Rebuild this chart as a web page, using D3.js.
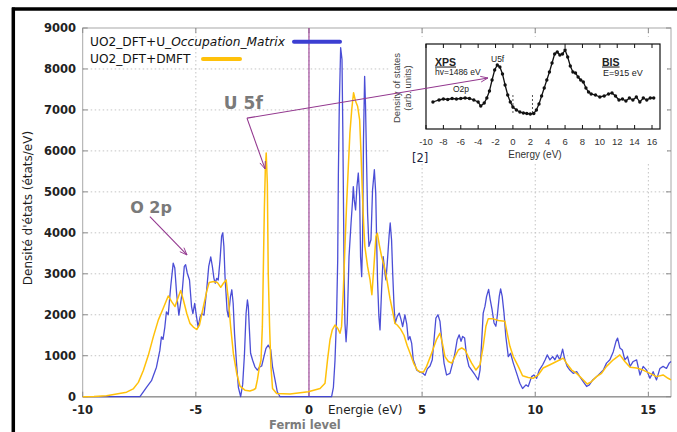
<!DOCTYPE html>
<html>
<head>
<meta charset="utf-8">
<script src="https://cdn.jsdelivr.net/npm/d3@7"></script>
<style>
  body { margin: 0; background: #fff; }
  svg { display: block; }
</style>
</head>
<body>
<svg id="chart" width="677" height="432"></svg>
<script>
// ---- data -------------------------------------------------------------
const energyTicks = [-10, -5, 0, 5, 10, 15];
const dosTicks = [0, 1000, 2000, 3000, 4000, 5000, 6000, 7000, 8000, 9000];

// DFT+U (occupation matrix) density of states
const dftuEnergy = [-10, -7.47, -7.18, -6.96, -6.74, -6.59, -6.52, -6.45, -6.37, -6.30, -6.22, -6.11, -6.00, -5.93, -5.85, -5.75,
  -5.61, -5.51, -5.45, -5.38, -5.28, -5.19, -5.13, -5.05, -4.99, -4.90, -4.81, -4.74, -4.64, -4.52, -4.43, -4.34,
  -4.27, -4.20, -4.14, -4.08, -4.01, -3.93, -3.86, -3.81, -3.76, -3.71, -3.62, -3.56, -3.47, -3.41, -3.35, -3.29,
  -3.20, -3.12, -3.02, -2.93, -2.85, -2.78, -2.72, -2.68, -2.64, -2.58, -2.49, -2.39, -2.28, -2.19, -2.09, -1.99,
  -1.90, -1.80, -1.69, -1.61, -1.50, -1.40, -1.28, 1.00, 1.08, 1.15, 1.22, 1.27, 1.30, 1.34, 1.40, 1.46, 1.50,
  1.55, 1.59, 1.64, 1.69, 1.77, 1.86, 1.92, 1.96, 2.00, 2.06, 2.12, 2.18, 2.24, 2.28, 2.33, 2.37, 2.41, 2.46,
  2.50, 2.55, 2.59, 2.65, 2.74, 2.81, 2.89, 2.95, 2.99, 3.03, 3.09, 3.14, 3.21, 3.28, 3.36, 3.40, 3.46, 3.54,
  3.59, 3.65, 3.70, 3.76, 3.81, 3.90, 3.99, 4.07, 4.14, 4.24, 4.32, 4.39, 4.46, 4.54, 4.61, 4.68, 4.76, 4.90,
  5.02, 5.13, 5.23, 5.35, 5.45, 5.54, 5.61, 5.70, 5.79, 5.88, 5.97, 6.08, 6.23, 6.35, 6.45, 6.55, 6.64, 6.72,
  6.79, 6.88, 6.97, 7.07, 7.19, 7.34, 7.48, 7.56, 7.63, 7.70, 7.78, 7.85, 7.94, 8.01, 8.09, 8.18, 8.26, 8.32,
  8.41, 8.47, 8.54, 8.62, 8.70, 8.81, 8.91, 9.03, 9.18, 9.32, 9.44, 9.59, 9.69, 9.84, 9.94, 10.06, 10.18, 10.33,
  10.44, 10.53, 10.65, 10.77, 10.87, 10.97, 11.09, 11.21, 11.31, 11.41, 11.53, 11.68, 11.83, 11.97, 12.12, 12.27,
  12.39, 12.54, 12.71, 12.86, 13.01, 13.15, 13.30, 13.45, 13.57, 13.64, 13.74, 13.85, 13.96, 14.08, 14.19, 14.33,
  14.48, 14.63, 14.77, 14.92, 15.07, 15.21, 15.36, 15.51, 15.65, 15.80, 15.92, 16.0];
const dftuDos = [0, 0, 230, 390, 720, 1130, 1460, 1400, 1700, 2070, 2000, 2690, 3260, 3140, 2520, 1990,
  2520, 3180, 3220, 3020, 2850, 2200, 2030, 2280, 2030, 1700, 1950, 2030, 1990, 2610, 3180, 3410,
  3180, 2890, 2770, 2890, 2850, 3340, 3920, 4000, 3670, 2930, 2110, 1950, 2440, 2610, 2280, 1540,
  800, 230, 0, 300, 1050, 2030, 2360, 2200, 1710, 1060, 890, 730, 650, 720, 750, 980,
  1180, 1260, 1150, 730, 410, 120, 0, 0, 230, 880, 1960, 3340, 5460, 7090, 8520, 8230, 6280,
  3180, 1790, 1340, 1790, 3420, 4240, 4730, 5130, 4810, 4560, 5130, 5460, 4890, 3420, 2930, 3830, 6280, 7820,
  7090, 5620, 4480, 3670, 3830, 5050, 5540, 4970, 3830, 2850, 1960, 1630, 2610, 3420, 3000, 2850, 3260, 3920,
  4240, 3830, 3020, 2200, 1790, 1960, 2040, 1880, 1710, 2000, 1780, 1390, 1470, 1300, 900, 800, 650, 600,
  580, 520, 680, 750, 900, 1470, 1920, 2000, 1840, 1310, 820, 530, 570, 820, 1060, 1390, 1510, 1350,
  1470, 1430, 980, 740, 650, 530, 410, 650, 1310, 2040, 2210, 2450, 2620, 2370, 2130, 1800, 1720, 1960,
  2450, 2630, 2450, 2040, 1470, 980, 1060, 820, 570, 330, 200, 290, 250, 490, 530, 450, 650, 780,
  900, 1020, 900, 980, 900, 1020, 900, 1160, 900, 740, 650, 570, 610, 490, 370, 250,
  290, 410, 490, 570, 650, 820, 900, 1100, 1350, 1430, 1190, 1140, 900, 980, 740, 860,
  900, 530, 740, 650, 450, 610, 410, 690, 740, 690, 820, 860];

// DFT+DMFT density of states
const dmftEnergy = [-10, -9.5, -8.95, -8.06, -7.77, -7.54, -7.32, -7.10, -6.88, -6.66, -6.44, -6.22, -6.07, -5.92,
  -5.77, -5.67, -5.55, -5.40, -5.26, -5.11, -4.96, -4.84, -4.70, -4.52, -4.41, -4.22, -4.05, -3.90, -3.78, -3.66,
  -3.56, -3.46, -3.34, -3.19, -3.05, -2.83, -2.61, -2.45, -2.36, -2.28, -2.19, -2.12, -2.06, -2.02, -1.97, -1.93,
  -1.89, -1.84, -1.80, -1.74, -1.68, -1.61, -1.43, -0.84, -0.03, 0.49, 0.71, 0.82, 0.93, 1.03, 1.15, 1.27, 1.37,
  1.44, 1.52, 1.59, 1.66, 1.74, 1.81, 1.89, 1.97, 2.06, 2.15, 2.24, 2.30, 2.36, 2.42, 2.47, 2.59, 2.70, 2.78,
  2.87, 2.96, 3.02, 3.11, 3.21, 3.33, 3.43, 3.58, 3.70, 3.80, 3.90, 4.05, 4.20, 4.34, 4.49, 4.64, 4.79, 4.93,
  5.06, 5.20, 5.42, 5.64, 5.79, 5.91, 6.01, 6.16, 6.31, 6.45, 6.60, 6.75, 6.90, 7.04, 7.19, 7.38, 7.56, 7.70,
  7.82, 7.92, 8.15, 8.37, 8.66, 8.76, 8.88, 9.03, 9.25, 9.44, 9.69, 9.91, 10.13, 10.35, 10.65, 10.94, 11.24,
  11.38, 11.61, 11.83, 12.05, 12.30, 12.49, 12.71, 12.93, 13.15, 13.45, 13.74, 13.96, 14.19, 14.48, 14.77,
  15.07, 15.36, 15.65, 15.87, 16.0];
const dmftDos = [0, 5, 25, 110, 190, 350, 640, 1010, 1460, 1870, 2160, 2460, 2320, 2200,
  2440, 2590, 2360, 2030, 1790, 1700, 1640, 1750, 2110, 2570, 2790, 2810, 2790, 2670, 2770, 2850,
  2360, 1700, 1050, 560, 260, 160, 140, 170, 200, 410, 730, 890, 1710, 3010, 4630, 5530,
  5950, 5200, 3010, 1710, 730, 200, 80, 65, 120, 200, 330, 900, 1390, 1630, 1750, 1670, 1550,
  1710, 2610, 3670, 4650, 5620, 6440, 7010, 7420, 7210, 7090, 6760, 5950, 4970, 4160, 3670, 3180, 2850, 2490,
  3180, 3910, 3990, 3700, 3420, 3180, 2900, 2400, 2080, 1790, 1750, 1650, 1500, 1250, 1030, 800, 650, 600,
  600, 740, 1060, 1400, 1550, 1270, 980, 860, 820, 980, 1140, 1190, 1140, 980, 820, 650, 780, 1230,
  1720, 1900, 1900, 1860, 1840, 1550, 1230, 980, 740, 510, 470, 450, 530, 700, 780, 860, 940,
  820, 650, 570, 450, 310, 370, 490, 570, 740, 900, 1020, 860, 720, 700, 650,
  570, 490, 530, 450, 410];

// XPS / BIS spectrum (arbitrary units)
const xpsEnergy = [-9.2, -8.5, -8.0, -7.5, -7.0, -6.5, -6.0, -5.5, -5.0, -4.5, -4.0, -3.7, -3.3, -3.0, -2.7, -2.4,
  -2.1, -1.8, -1.5, -1.2, -0.9, -0.6, -0.3, 0.0, 0.4, 0.8, 1.2, 1.6, 2.0, 2.4, 2.7, 3.0, 3.3, 3.6, 3.9, 4.2,
  4.5, 4.8, 5.1, 5.4, 5.7, 6.0, 6.3, 6.6, 6.9, 7.2, 7.5, 7.8, 8.1, 8.4, 8.7, 9.0, 9.5, 10.0, 10.5, 11.0, 11.4,
  11.8, 12.2, 12.6, 13.0, 13.4, 13.8, 14.2, 14.6, 15.0, 15.4, 15.8, 16.2];
const xpsIntensity = [27, 29, 30, 29.5, 30.5, 30, 30.5, 31, 30.5, 29, 27, 23, 26, 31, 38, 49,
  59, 64, 62, 55, 44, 34, 27, 22, 19, 17, 16, 15.5, 15, 15.5, 19, 25, 33, 41, 49, 57,
  66, 75, 77, 74, 75, 79, 72, 63, 57, 56, 52, 49, 47, 41, 37, 35, 34, 32, 33, 35, 36,
  33, 29, 30, 28, 31, 29, 32, 27, 31, 29, 31, 31];
const insetTicks = [-10, -8, -6, -4, -2, 0, 2, 4, 6, 8, 10, 12, 14, 16];
const bandEdges = [0, 2.25];

const legendLabels = [["UO2_DFT+U_", "Occupation_Matrix"], ["UO2_DFT+DMFT", ""]];
const seriesColors = ["#3c3fd2", "#ffc10a"];

// ---- layout -------------------------------------------------------------
const svg = d3.select("#chart");
const x = d3.scaleLinear().domain([-10, 16]).range([82.7, 671]);
const y = d3.scaleLinear().domain([0, 9000]).range([396.7, 28]);
const purple = "#93388f";

svg.append("rect").attr("width", 677).attr("height", 432).attr("fill", "#fff");

// outer black frame (top and left edges)
svg.append("line").attr("x1", 12).attr("x2", 677).attr("y1", 9).attr("y2", 9)
  .attr("stroke", "#000").attr("stroke-width", 3.5);
svg.append("line").attr("x1", 13.3).attr("x2", 13.3).attr("y1", 7.5).attr("y2", 432)
  .attr("stroke", "#000").attr("stroke-width", 3.5);

// grid
const grid = svg.append("g").attr("stroke", "#c4c4c4").attr("stroke-dasharray", "1.5,2.5").attr("stroke-width", 1);
grid.selectAll(".gx").data(energyTicks.filter(d => d > -10)).join("line")
  .attr("x1", d => x(d)).attr("x2", d => x(d)).attr("y1", y(9000)).attr("y2", y(0));
grid.selectAll(".gy").data(dosTicks.filter(d => d > 0 && d < 9000)).join("line")
  .attr("x1", x(-10)).attr("x2", x(16)).attr("y1", d => y(d)).attr("y2", d => y(d));

// frame and inward ticks
svg.append("rect").attr("x", x(-10)).attr("y", y(9000)).attr("width", x(16) - x(-10)).attr("height", y(0) - y(9000))
  .attr("fill", "none").attr("stroke", "#a8a8a8").attr("stroke-width", 1);
svg.append("line").attr("x1", x(-10)).attr("x2", x(16)).attr("y1", y(0)).attr("y2", y(0))
  .attr("stroke", "#9a9a9a").attr("stroke-width", 1.6);
const tk = svg.append("g").attr("stroke", "#8a8a8a").attr("stroke-width", 1);
energyTicks.forEach(d => {
  tk.append("line").attr("x1", x(d)).attr("x2", x(d)).attr("y1", y(0)).attr("y2", y(0) - 5);
  tk.append("line").attr("x1", x(d)).attr("x2", x(d)).attr("y1", y(9000)).attr("y2", y(9000) + 5);
});
dosTicks.forEach(d => {
  tk.append("line").attr("x1", x(-10)).attr("x2", x(-10) + 5).attr("y1", y(d)).attr("y2", y(d));
  tk.append("line").attr("x1", x(16)).attr("x2", x(16) - 5).attr("y1", y(d)).attr("y2", y(d));
});

// axis labels
const tickFont = "'DejaVu Sans', Verdana, sans-serif";
svg.append("g").selectAll("text").data(dosTicks).join("text")
  .attr("x", 76).attr("y", d => y(d) + 4.2).attr("text-anchor", "end")
  .attr("font-family", tickFont).attr("font-size", 11.5).attr("font-weight", "bold").attr("fill", "#222")
  .text(d => d);
svg.append("g").selectAll("text").data(energyTicks).join("text")
  .attr("x", d => x(d)).attr("y", 414).attr("text-anchor", "middle")
  .attr("font-family", tickFont).attr("font-size", 11.5).attr("font-weight", "bold").attr("fill", "#222")
  .text(d => d);

svg.append("text").attr("transform", "translate(32,208) rotate(-90)").attr("text-anchor", "middle")
  .attr("font-family", tickFont).attr("font-size", 12).attr("fill", "#1e1e1e")
  .text("Densité d'états (états/eV)");
svg.append("text").attr("x", 328).attr("y", 414)
  .attr("font-family", tickFont).attr("font-size", 12).attr("fill", "#1e1e1e")
  .text("Energie (eV)");
svg.append("text").attr("x", 269).attr("y", 429)
  .attr("font-family", tickFont).attr("font-size", 11.5).attr("font-weight", "bold").attr("fill", "#7c7c7c")
  .text("Fermi level");

// Fermi level
svg.append("line").attr("x1", x(0)).attr("x2", x(0)).attr("y1", y(9000)).attr("y2", y(0))
  .attr("stroke", "#a04a9c").attr("stroke-width", 1.2);

// density-of-states curves
const line = d3.line().x(d => x(d[0])).y(d => y(d[1]));
svg.append("path").datum(d3.zip(dftuEnergy, dftuDos)).attr("d", line)
  .attr("fill", "none").attr("stroke", seriesColors[0]).attr("stroke-width", 1.3).attr("stroke-linejoin", "round")
  .attr("stroke-opacity", 0.92);
svg.append("path").datum(d3.zip(dmftEnergy, dmftDos)).attr("d", line)
  .attr("fill", "none").attr("stroke", seriesColors[1]).attr("stroke-width", 1.5).attr("stroke-linejoin", "round");

// legend
const legendFont = "'DejaVu Sans', sans-serif";
const lg = svg.append("g");
const l1 = lg.append("text").attr("x", 90).attr("y", 46).attr("font-family", legendFont).attr("font-size", 12.2).attr("fill", "#111");
l1.append("tspan").text(legendLabels[0][0]);
l1.append("tspan").attr("font-style", "italic").text(legendLabels[0][1]);
lg.append("line").attr("x1", 294).attr("x2", 340).attr("y1", 41.7).attr("y2", 41.7)
  .attr("stroke", seriesColors[0]).attr("stroke-width", 4).attr("stroke-linecap", "round");
lg.append("text").attr("x", 90).attr("y", 62.5).attr("font-family", legendFont).attr("font-size", 12.2).attr("fill", "#111")
  .text(legendLabels[1][0]);
lg.append("line").attr("x1", 203).attr("x2", 240).attr("y1", 59).attr("y2", 59)
  .attr("stroke", seriesColors[1]).attr("stroke-width", 4).attr("stroke-linecap", "round");

// ---- inset: XPS / BIS spectrum ------------------------------------------
const xi = d3.scaleLinear().domain([-10, 16]).range([426, 652]);
const yi = d3.scaleLinear().domain([0, 85]).range([129, 44]);
const insetFont = "'Liberation Sans', Arial, sans-serif";
const inset = svg.append("g");
inset.append("rect").attr("x", 389).attr("y", 37).attr("width", 278).attr("height", 126).attr("fill", "#fff");
inset.append("rect").attr("x", xi(-10)).attr("y", yi(85)).attr("width", 660 - xi(-10)).attr("height", yi(0) - yi(85))
  .attr("fill", "none").attr("stroke", "#111").attr("stroke-width", 1.2);
insetTicks.forEach(d => {
  inset.append("line").attr("x1", xi(d)).attr("x2", xi(d)).attr("y1", yi(0)).attr("y2", yi(0) - 4).attr("stroke", "#111");
  inset.append("line").attr("x1", xi(d)).attr("x2", xi(d)).attr("y1", yi(85)).attr("y2", yi(85) + 4).attr("stroke", "#111");
});
inset.selectAll(".edge").data(bandEdges).join("line")
  .attr("x1", d => xi(d)).attr("x2", d => xi(d)).attr("y1", yi(34)).attr("y2", yi(14))
  .attr("stroke", "#555").attr("stroke-dasharray", "2,2");
inset.append("g").selectAll("text").data(insetTicks).join("text")
  .attr("x", d => xi(d)).attr("y", 145).attr("text-anchor", "middle")
  .attr("font-family", insetFont).attr("font-size", 9.5).attr("fill", "#333")
  .text(d => d);
inset.append("text").attr("x", 535).attr("y", 158).attr("text-anchor", "middle")
  .attr("font-family", insetFont).attr("font-size", 10).attr("fill", "#333").text("Energy (eV)");
inset.append("text").attr("transform", "translate(400,88) rotate(-90)").attr("text-anchor", "middle")
  .attr("font-family", insetFont).attr("font-size", 9.5).attr("fill", "#444").text("Density of states");
inset.append("text").attr("transform", "translate(411,88) rotate(-90)").attr("text-anchor", "middle")
  .attr("font-family", insetFont).attr("font-size", 9.5).attr("fill", "#444").text("(arb. units)");
inset.append("text").attr("x", 412).attr("y", 162)
  .attr("font-family", tickFont).attr("font-size", 11.5).attr("fill", "#1c2340").text("[2]");

const xpsPts = d3.zip(xpsEnergy, xpsIntensity);
inset.append("path").datum(xpsPts)
  .attr("d", d3.line().x(d => xi(d[0])).y(d => yi(d[1])))
  .attr("fill", "none").attr("stroke", "#111").attr("stroke-width", 1.3);
inset.selectAll(".pt").data(xpsPts).join("circle")
  .attr("cx", d => xi(d[0])).attr("cy", d => yi(d[1])).attr("r", 1.7).attr("fill", "#111");

inset.append("text").attr("x", 435).attr("y", 65.5).attr("font-family", insetFont).attr("font-size", 10.5)
  .attr("font-weight", "bold").attr("fill", "#222").attr("text-decoration", "underline").text("XPS");
inset.append("text").attr("x", 435).attr("y", 75).attr("font-family", insetFont).attr("font-size", 8.5)
  .attr("fill", "#222").text("hv=1486 eV");
inset.append("text").attr("x", 491).attr("y", 61.5).attr("font-family", insetFont).attr("font-size", 8.5)
  .attr("fill", "#222").text("U5f");
inset.append("text").attr("x", 453).attr("y", 91.5).attr("font-family", insetFont).attr("font-size", 8.5)
  .attr("fill", "#222").text("O2p");
inset.append("text").attr("x", 602).attr("y", 65.5).attr("font-family", insetFont).attr("font-size", 10.5)
  .attr("font-weight", "bold").attr("fill", "#222").attr("text-decoration", "underline").text("BIS");
inset.append("text").attr("x", 603).attr("y", 76).attr("font-family", insetFont).attr("font-size", 9)
  .attr("fill", "#222").text("E=915 eV");

// ---- annotations ---------------------------------------------------------
svg.append("defs").append("marker").attr("id", "head").attr("viewBox", "-1 -5 11 10")
  .attr("refX", 9).attr("refY", 0).attr("markerWidth", 9).attr("markerHeight", 9)
  .attr("markerUnits", "userSpaceOnUse").attr("orient", "auto")
  .append("path").attr("d", "M0,-3.5 L9,0 L0,3.5").attr("fill", "none").attr("stroke", purple).attr("stroke-width", 1.1);

const arrows = [
  [[-2.74, 6800], [-1.94, 5560]],
  [[-2.74, 6800], [7.91, 7780]],
  [[-7.03, 4395], [-5.39, 3460]]
];
svg.append("g").selectAll("line").data(arrows).join("line")
  .attr("x1", d => x(d[0][0])).attr("y1", d => y(d[0][1]))
  .attr("x2", d => x(d[1][0])).attr("y2", d => y(d[1][1]))
  .attr("stroke", purple).attr("stroke-width", 1.1).attr("marker-end", "url(#head)");

svg.append("text").attr("x", x(-2.9)).attr("y", y(7020)).attr("text-anchor", "middle")
  .attr("font-family", tickFont).attr("font-size", 17).attr("font-weight", "bold").attr("fill", "#7a7a7a").text("U 5f");
svg.append("text").attr("x", x(-6.98)).attr("y", y(4484)).attr("text-anchor", "middle")
  .attr("font-family", tickFont).attr("font-size", 16).attr("font-weight", "bold").attr("fill", "#7a7a7a").text("O 2p");
</script>
</body>
</html>
